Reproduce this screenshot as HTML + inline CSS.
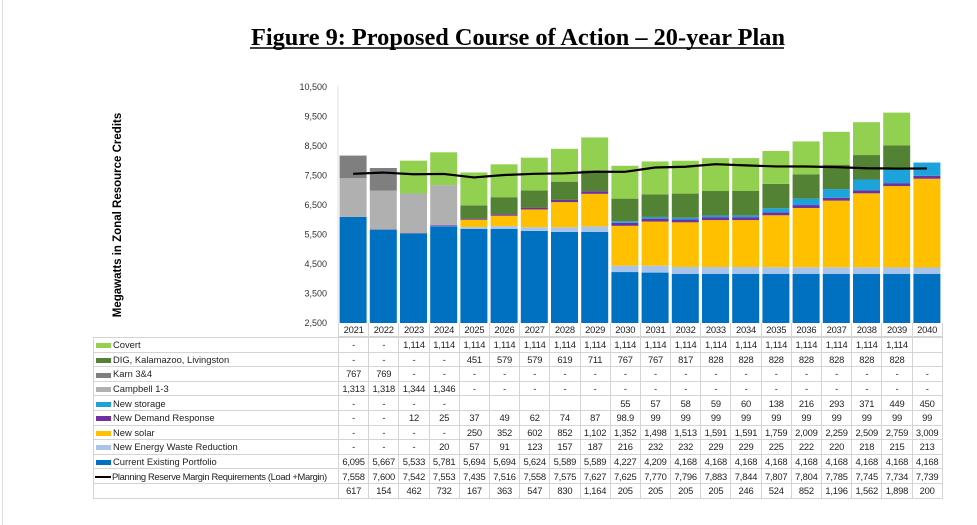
<!DOCTYPE html>
<html><head><meta charset="utf-8"><style>
body{margin:0;width:977px;height:525px;background:#fff;position:relative;overflow:hidden;font-family:"Liberation Sans",sans-serif}
#pb{position:absolute;left:2px;top:0;width:1px;height:525px;background:#ddd}
table{position:absolute;border-collapse:collapse;font-size:9.4px;color:#222;table-layout:fixed}
td{height:13.6px;padding:0;text-align:center;border:1px solid #d4d4d4;white-space:nowrap;overflow:hidden;letter-spacing:-0.2px}
td.l{text-align:left;padding-left:2px;letter-spacing:0}
td.l2{text-align:left;padding-left:1px;letter-spacing:-0.35px}
.sw{display:inline-block;width:15px;height:5px;margin-right:2px;vertical-align:middle}
#yrs{top:323px;left:338px;width:604px}
#yrs td{border-top:none;height:13px}
#tb{top:337px;left:93px;width:849px}
</style></head><body>
<div id="pb"></div>
<svg width="977" height="525" style="position:absolute;left:0;top:0">
<text x="518" y="45" text-anchor="middle" font-family="Liberation Serif" font-weight="bold" font-size="24" textLength="534" lengthAdjust="spacingAndGlyphs">Figure 9: Proposed Course of Action – 20-year Plan</text>
<line x1="250" y1="48" x2="784" y2="48" stroke="#000" stroke-width="1.5"/>
<text transform="translate(121,215) rotate(-90)" text-anchor="middle" font-weight="bold" font-size="11.5">Megawatts in Zonal Resource Credits</text>
<g font-size="9" fill="#333" text-anchor="end">
<text x="327" y="90">10,500</text><text x="327" y="119.5">9,500</text><text x="327" y="149">8,500</text><text x="327" y="178.5">7,500</text><text x="327" y="208">6,500</text><text x="327" y="237.5">5,500</text><text x="327" y="267">4,500</text><text x="327" y="296.5">3,500</text><text x="327" y="326">2,500</text>
</g>
<line x1="338" y1="86" x2="338" y2="323" stroke="#e0e0e0"/>
<g id="bars"></g>
<polyline id="prm" fill="none" stroke="#000" stroke-width="2.2"/>
</svg>
<table id="yrs"><colgroup><col span="20" style="width:30.2px"></colgroup><tr>
<td>2021</td><td>2022</td><td>2023</td><td>2024</td><td>2025</td><td>2026</td><td>2027</td><td>2028</td><td>2029</td><td>2030</td><td>2031</td><td>2032</td><td>2033</td><td>2034</td><td>2035</td><td>2036</td><td>2037</td><td>2038</td><td>2039</td><td>2040</td></tr></table>
<table id="tb">
<colgroup><col style="width:245px"><col span="20" style="width:30.2px"></colgroup>
<tr><td class="l"><span class="sw" style="background:#92d050"></span>Covert</td><td>-</td><td>-</td><td>1,114</td><td>1,114</td><td>1,114</td><td>1,114</td><td>1,114</td><td>1,114</td><td>1,114</td><td>1,114</td><td>1,114</td><td>1,114</td><td>1,114</td><td>1,114</td><td>1,114</td><td>1,114</td><td>1,114</td><td>1,114</td><td>1,114</td><td></td></tr>
<tr><td class="l"><span class="sw" style="background:#548235"></span>DIG, Kalamazoo, Livingston</td><td>-</td><td>-</td><td>-</td><td>-</td><td>451</td><td>579</td><td>579</td><td>619</td><td>711</td><td>767</td><td>767</td><td>817</td><td>828</td><td>828</td><td>828</td><td>828</td><td>828</td><td>828</td><td>828</td><td></td></tr>
<tr><td class="l"><span class="sw" style="background:#7f7f7f"></span>Karn 3&amp;4</td><td>767</td><td>769</td><td>-</td><td>-</td><td>-</td><td>-</td><td>-</td><td>-</td><td>-</td><td>-</td><td>-</td><td>-</td><td>-</td><td>-</td><td>-</td><td>-</td><td>-</td><td>-</td><td>-</td><td>-</td></tr>
<tr><td class="l"><span class="sw" style="background:#b0b0b0"></span>Campbell 1-3</td><td>1,313</td><td>1,318</td><td>1,344</td><td>1,346</td><td>-</td><td>-</td><td>-</td><td>-</td><td>-</td><td>-</td><td>-</td><td>-</td><td>-</td><td>-</td><td>-</td><td>-</td><td>-</td><td>-</td><td>-</td><td>-</td></tr>
<tr><td class="l"><span class="sw" style="background:#1ca3dc"></span>New storage</td><td>-</td><td>-</td><td>-</td><td>-</td><td></td><td></td><td></td><td></td><td></td><td>55</td><td>57</td><td>58</td><td>59</td><td>60</td><td>138</td><td>216</td><td>293</td><td>371</td><td>449</td><td>450</td></tr>
<tr><td class="l"><span class="sw" style="background:#7030a0"></span>New Demand Response</td><td>-</td><td>-</td><td>12</td><td>25</td><td>37</td><td>49</td><td>62</td><td>74</td><td>87</td><td>98.9</td><td>99</td><td>99</td><td>99</td><td>99</td><td>99</td><td>99</td><td>99</td><td>99</td><td>99</td><td>99</td></tr>
<tr><td class="l"><span class="sw" style="background:#ffc000"></span>New solar</td><td>-</td><td>-</td><td>-</td><td>-</td><td>250</td><td>352</td><td>602</td><td>852</td><td>1,102</td><td>1,352</td><td>1,498</td><td>1,513</td><td>1,591</td><td>1,591</td><td>1,759</td><td>2,009</td><td>2,259</td><td>2,509</td><td>2,759</td><td>3,009</td></tr>
<tr><td class="l"><span class="sw" style="background:#a9c4eb"></span>New Energy Waste Reduction</td><td>-</td><td>-</td><td>-</td><td>20</td><td>57</td><td>91</td><td>123</td><td>157</td><td>187</td><td>216</td><td>232</td><td>232</td><td>229</td><td>229</td><td>225</td><td>222</td><td>220</td><td>218</td><td>215</td><td>213</td></tr>
<tr><td class="l"><span class="sw" style="background:#0070c0"></span>Current Existing Portfolio</td><td>6,095</td><td>5,667</td><td>5,533</td><td>5,781</td><td>5,694</td><td>5,694</td><td>5,624</td><td>5,589</td><td>5,589</td><td>4,227</td><td>4,209</td><td>4,168</td><td>4,168</td><td>4,168</td><td>4,168</td><td>4,168</td><td>4,168</td><td>4,168</td><td>4,168</td><td>4,168</td></tr>
<tr><td class="l2"><span class="sw" style="background:#000;height:2px;width:16px;margin-right:1px"></span>Planning Reserve Margin Requirements (Load +Margin)</td><td>7,558</td><td>7,600</td><td>7,542</td><td>7,553</td><td>7,435</td><td>7,516</td><td>7,558</td><td>7,575</td><td>7,627</td><td>7,625</td><td>7,770</td><td>7,796</td><td>7,883</td><td>7,844</td><td>7,807</td><td>7,804</td><td>7,785</td><td>7,745</td><td>7,734</td><td>7,739</td></tr>
<tr><td class="l"></td><td>617</td><td>154</td><td>462</td><td>732</td><td>167</td><td>363</td><td>547</td><td>830</td><td>1,164</td><td>205</td><td>205</td><td>205</td><td>205</td><td>246</td><td>524</td><td>852</td><td>1,196</td><td>1,562</td><td>1,898</td><td>200</td></tr>
</table>
<script>
var S=[
["#0070c0",[6095,5667,5533,5781,5694,5694,5624,5589,5589,4227,4209,4168,4168,4168,4168,4168,4168,4168,4168,4168]],
["#a9c4eb",[0,0,0,20,57,91,123,157,187,216,232,232,229,229,225,222,220,218,215,213]],
["#ffc000",[0,0,0,0,250,352,602,852,1102,1352,1498,1513,1591,1591,1759,2009,2259,2509,2759,3009]],
["#7030a0",[0,0,12,25,37,49,62,74,87,98.9,99,99,99,99,99,99,99,99,99,99]],
["#1ca3dc",[0,0,0,0,0,0,0,0,0,55,57,58,59,60,138,216,293,371,449,450]],
["#b0b0b0",[1313,1318,1344,1346,0,0,0,0,0,0,0,0,0,0,0,0,0,0,0,0]],
["#7f7f7f",[767,769,0,0,0,0,0,0,0,0,0,0,0,0,0,0,0,0,0,0]],
["#548235",[0,0,0,0,451,579,579,619,711,767,767,817,828,828,828,828,828,828,828,0]],
["#92d050",[0,0,1114,1114,1114,1114,1114,1114,1114,1114,1114,1114,1114,1114,1114,1114,1114,1114,1114,0]]];
var P=[7558,7600,7542,7553,7435,7516,7558,7575,7627,7625,7770,7796,7883,7844,7807,7804,7785,7745,7734,7739];
function Y(v){return 323-(v-2500)*0.0295;}
var g=document.getElementById('bars'),ns="http://www.w3.org/2000/svg",pts=[];
for(var i=0;i<20;i++){var x=338+i*30.2+1.6,c=0;
for(var s=0;s<S.length;s++){var v=S[s][1][i];if(!v)continue;
var lo=Math.max(c,2500),hi=c+v;c=hi;if(hi<=2500)continue;
var r=document.createElementNS(ns,'rect');r.setAttribute('x',x);r.setAttribute('width',27);
r.setAttribute('y',Y(hi));r.setAttribute('height',Y(lo)-Y(hi));r.setAttribute('fill',S[s][0]);g.appendChild(r);}
pts.push((x+13.5)+','+Y(P[i]));}
document.getElementById('prm').setAttribute('points',pts.join(' '));
</script>
</body></html>
